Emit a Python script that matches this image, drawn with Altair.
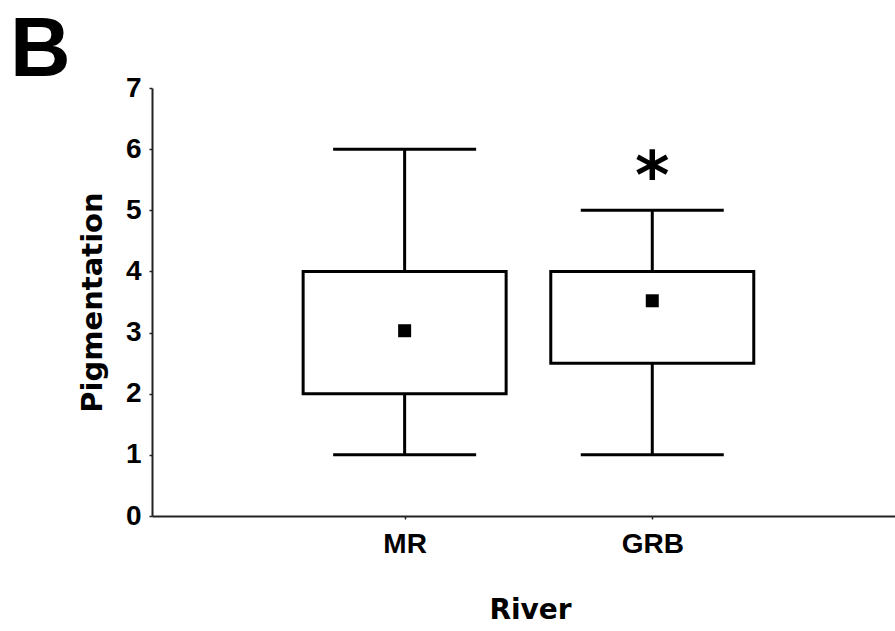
import altair as alt
import pandas as pd

rivers = ["MR", "GRB"]
mins = [1.0, 1.0]
q1s = [2.0, 2.5]
q3s = [4.0, 4.0]
maxs = [6.0, 5.0]
means = [3.03, 3.52]
marks = ["", "*"]
star_y = [None, 5.53]

df = pd.DataFrame({
    "river": rivers,
    "pos": [i + 1 for i in range(len(rivers))],
    "min": mins, "q1": q1s, "q3": q3s, "max": maxs, "mean": means,
})
stars = pd.DataFrame({
    "pos": [i + 1 for i in range(len(rivers))],
    "y": star_y, "label": marks,
}).dropna()

label_expr = "[" + ",".join("'" + r + "'" for r in rivers) + "][datum.value - 1]"

x = alt.X("pos:Q",
          scale=alt.Scale(domain=[0, 2.96], nice=False, zero=False),
          axis=alt.Axis(values=[1, 2], labelExpr=label_expr, title="River",
                        grid=False, tickSize=3, labelPadding=11,
                        titlePadding=38, titleX=378))
y_scale = alt.Scale(domain=[0, 7], nice=False)
y_axis = alt.Axis(values=list(range(8)), format="d", title="Pigmentation",
                  grid=False, tickSize=3, labelPadding=8, titlePadding=18,
                  titleFontSize=29)

whisk = alt.Chart(df).mark_rule(color="black", strokeWidth=3).encode(
    x=x, y=alt.Y("min:Q", scale=y_scale, axis=y_axis), y2="max:Q")
caps_lo = alt.Chart(df).mark_tick(orient="horizontal", size=143, thickness=3,
                                  color="black", opacity=1).encode(x=x, y="min:Q")
caps_hi = alt.Chart(df).mark_tick(orient="horizontal", size=143, thickness=3,
                                  color="black", opacity=1).encode(x=x, y="max:Q")
box = alt.Chart(df).mark_bar(size=203, fill="white", stroke="black",
                             strokeWidth=3, orient="vertical").encode(
    x=x, y="q1:Q", y2="q3:Q")
mean = alt.Chart(df).mark_square(size=169, color="black", opacity=1).encode(
    x=x, y="mean:Q")
star = alt.Chart(stars).mark_text(font="DejaVu Sans", fontWeight="bold",
                                  fontSize=66, baseline="middle",
                                  color="black").encode(
    x=x, y="y:Q", text="label:N")

chart = alt.layer(whisk, caps_lo, caps_hi, box, mean, star).properties(
    width=743, height=428,
    background="white",
    autosize=alt.AutoSizeParams(type="none"),
    padding={"left": 152, "top": 88, "right": 0, "bottom": 115},
    title=alt.TitleParams("B", anchor="start", frame="group", fontSize=84,
                          font="Liberation Sans", fontWeight="bold",
                          color="black", dx=-142, offset=0, dy=20),
).configure_view(stroke=None).configure_axis(
    domainColor="#222", domainWidth=2, tickColor="#222", tickWidth=1.5,
    labelFont="Liberation Sans", labelFontWeight="bold", labelFontSize=28,
    labelColor="black",
    titleFont="DejaVu Sans", titleFontWeight="bold", titleFontSize=28,
    titleColor="black",
)

chart.save("out.html", embed_options={"renderer": "svg", "actions": False})
